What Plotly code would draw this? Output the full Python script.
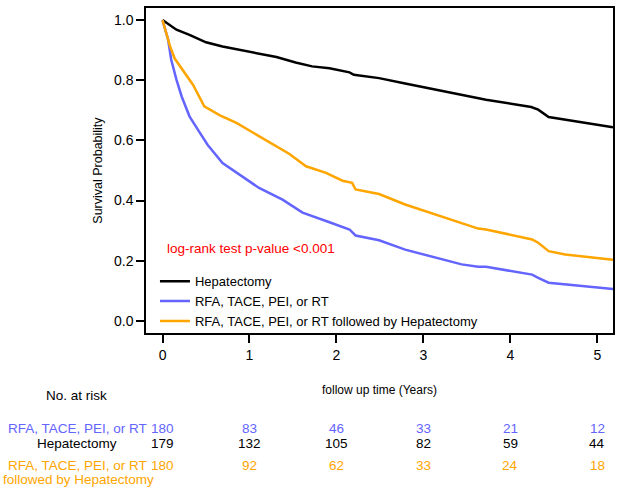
import plotly.graph_objects as go

# --- Data ---
hep_t = [0, 0.16, 0.31, 0.5, 0.69, 0.92, 1.11, 1.31, 1.53, 1.72, 1.92, 2.11, 2.15, 2.2, 2.49,
         2.79, 3.14, 3.44, 3.63, 3.72, 4.24, 4.32, 4.44, 4.63, 4.89, 5.18]
hep_s = [1.0, 0.968, 0.951, 0.926, 0.912, 0.899, 0.887, 0.877, 0.859, 0.846, 0.84, 0.829, 0.826, 0.818, 0.807,
         0.789, 0.769, 0.752, 0.739, 0.735, 0.711, 0.702, 0.678, 0.669, 0.656, 0.644]

rfa_t = [0, 0.064, 0.10, 0.16, 0.22, 0.31, 0.43, 0.52, 0.69, 0.92, 1.11, 1.38, 1.61, 1.92, 2.11,
         2.15, 2.22, 2.49, 2.79, 3.14, 3.44, 3.63, 3.72, 4.25, 4.32, 4.44, 4.63, 4.89, 5.18]
rfa_s = [1.0, 0.935, 0.868, 0.802, 0.746, 0.68, 0.625, 0.585, 0.525, 0.481, 0.442, 0.403, 0.36, 0.328, 0.309,
         0.304, 0.284, 0.268, 0.237, 0.21, 0.188, 0.18, 0.18, 0.154, 0.143, 0.127, 0.121, 0.114, 0.106]

seq_t = [0, 0.084, 0.14, 0.24, 0.35, 0.48, 0.66, 0.85, 1.08, 1.31, 1.46, 1.65, 1.88, 2.07, 2.18,
         2.22, 2.49, 2.79, 3.14, 3.48, 3.63, 3.72, 4.25, 4.32, 4.44, 4.63, 4.89, 5.18]
seq_s = [1.0, 0.915, 0.872, 0.832, 0.785, 0.713, 0.683, 0.658, 0.619, 0.580, 0.555, 0.514, 0.492, 0.466, 0.459,
         0.437, 0.422, 0.387, 0.354, 0.320, 0.307, 0.304, 0.271, 0.260, 0.232, 0.221, 0.213, 0.203]

series_names = ["Hepatectomy", "RFA, TACE, PEI, or RT", "RFA, TACE, PEI, or RT followed by Hepatectomy"]
series_colors = ["#000000", "#6464FF", "#FFA500"]

risk_times = [0, 1, 2, 3, 4, 5]
risk_rfa = [180, 83, 46, 33, 21, 12]
risk_hep = [179, 132, 105, 82, 59, 44]
risk_seq = [180, 92, 62, 33, 24, 18]

x_ticks = [0, 1, 2, 3, 4, 5]
y_ticks = [0.0, 0.2, 0.4, 0.6, 0.8, 1.0]
y_tick_labels = ["0.0", "0.2", "0.4", "0.6", "0.8", "1.0"]

FONT = "Liberation Sans, Arial, sans-serif"

fig = go.Figure()
for t, s, name, col in [(hep_t, hep_s, series_names[0], series_colors[0]),
                        (rfa_t, rfa_s, series_names[1], series_colors[1]),
                        (seq_t, seq_s, series_names[2], series_colors[2])]:
    fig.add_trace(go.Scatter(x=t, y=s, mode="lines", name=name,
                             line=dict(color=col, width=2.5)))

W, H = 621, 490
# plot box in screen pixels
SL, SR, ST, SB = 146, 615, 7, 333
L, R, T, B = SL, SR, ST, SB

def px_x(px):
    return (px - SL) / (SR - SL)

def px_y(py):
    return (SB - py) / (SB - ST)

annotations = []
annotations.append(dict(text="log-rank test p-value <0.001", xref="paper", yref="paper",
                        x=px_x(165), y=px_y(248), xanchor="left", yanchor="middle",
                        showarrow=False, font=dict(family=FONT, size=13.5, color="#FF0000")))
annotations.append(dict(text="Survival Probability", xref="paper", yref="paper",
                        x=px_x(97), y=px_y(170), textangle=-90, xanchor="center", yanchor="middle",
                        showarrow=False, font=dict(family=FONT, size=12.5, color="#000000")))
annotations.append(dict(text="follow up time (Years)", xref="paper", yref="paper",
                        x=px_x(381), y=px_y(390), xanchor="center", yanchor="middle",
                        showarrow=False, font=dict(family=FONT, size=12, color="#000000")))
annotations.append(dict(text="No. at risk", xref="paper", yref="paper",
                        x=px_x(76), y=px_y(396), xanchor="center", yanchor="middle",
                        showarrow=False, font=dict(family=FONT, size=13.5, color="#000000")))

rows = [("RFA, TACE, PEI, or RT", risk_rfa, series_colors[1], 429),
        ("Hepatectomy", risk_hep, series_colors[0], 444),
        ("RFA, TACE, PEI, or RT", risk_seq, series_colors[2], 466)]
for label, vals, col, py in rows:
    annotations.append(dict(text=label, xref="paper", yref="paper", x=px_x(77), y=px_y(py),
                            xanchor="center", yanchor="middle", showarrow=False,
                            font=dict(family=FONT, size=13.5, color=col)))
    for tt, v in zip(risk_times, vals):
        annotations.append(dict(text=str(v), xref="x", yref="paper", x=tt, y=px_y(py),
                                xanchor="center", yanchor="middle", showarrow=False,
                                font=dict(family=FONT, size=13.5, color=col)))
annotations.append(dict(text="followed by Hepatectomy", xref="paper", yref="paper", x=px_x(78), y=px_y(480),
                        xanchor="center", yanchor="middle", showarrow=False,
                        font=dict(family=FONT, size=13.5, color=series_colors[2])))

fig.update_layout(
    width=W, height=H,
    margin=dict(l=L, r=W - R, t=T, b=H - B, pad=0),
    plot_bgcolor="white", paper_bgcolor="white",
    font=dict(family=FONT, size=14, color="#000000"),
    showlegend=True,
    legend=dict(x=px_x(155), y=px_y(266), xanchor="left", yanchor="top",
                bgcolor="rgba(0,0,0,0)", borderwidth=0, itemwidth=30,
                font=dict(family=FONT, size=13, color="#000000"), tracegroupgap=0),
    annotations=annotations,
)
fig.update_xaxes(range=[-0.19, 5.18], tickvals=x_ticks, ticks="outside", ticklen=8, tickwidth=1.5,
                 tickcolor="#000000", showline=True, linecolor="#000000", linewidth=1.5, mirror=True,
                 showgrid=False, zeroline=False, tickfont=dict(size=14))
fig.update_yaxes(range=[-0.04, 1.04], tickvals=y_ticks, ticktext=y_tick_labels, ticks="outside", ticklen=8,
                 tickwidth=1.5, tickcolor="#000000", showline=True, linecolor="#000000", linewidth=1.5,
                 mirror=True, showgrid=False, zeroline=False, tickfont=dict(size=14))

# remove the browser's default 8px body margin so the figure sits at the window origin
fig.write_html("out.html", config={"displayModeBar": False},
               post_script="document.body.style.margin='0px';")
